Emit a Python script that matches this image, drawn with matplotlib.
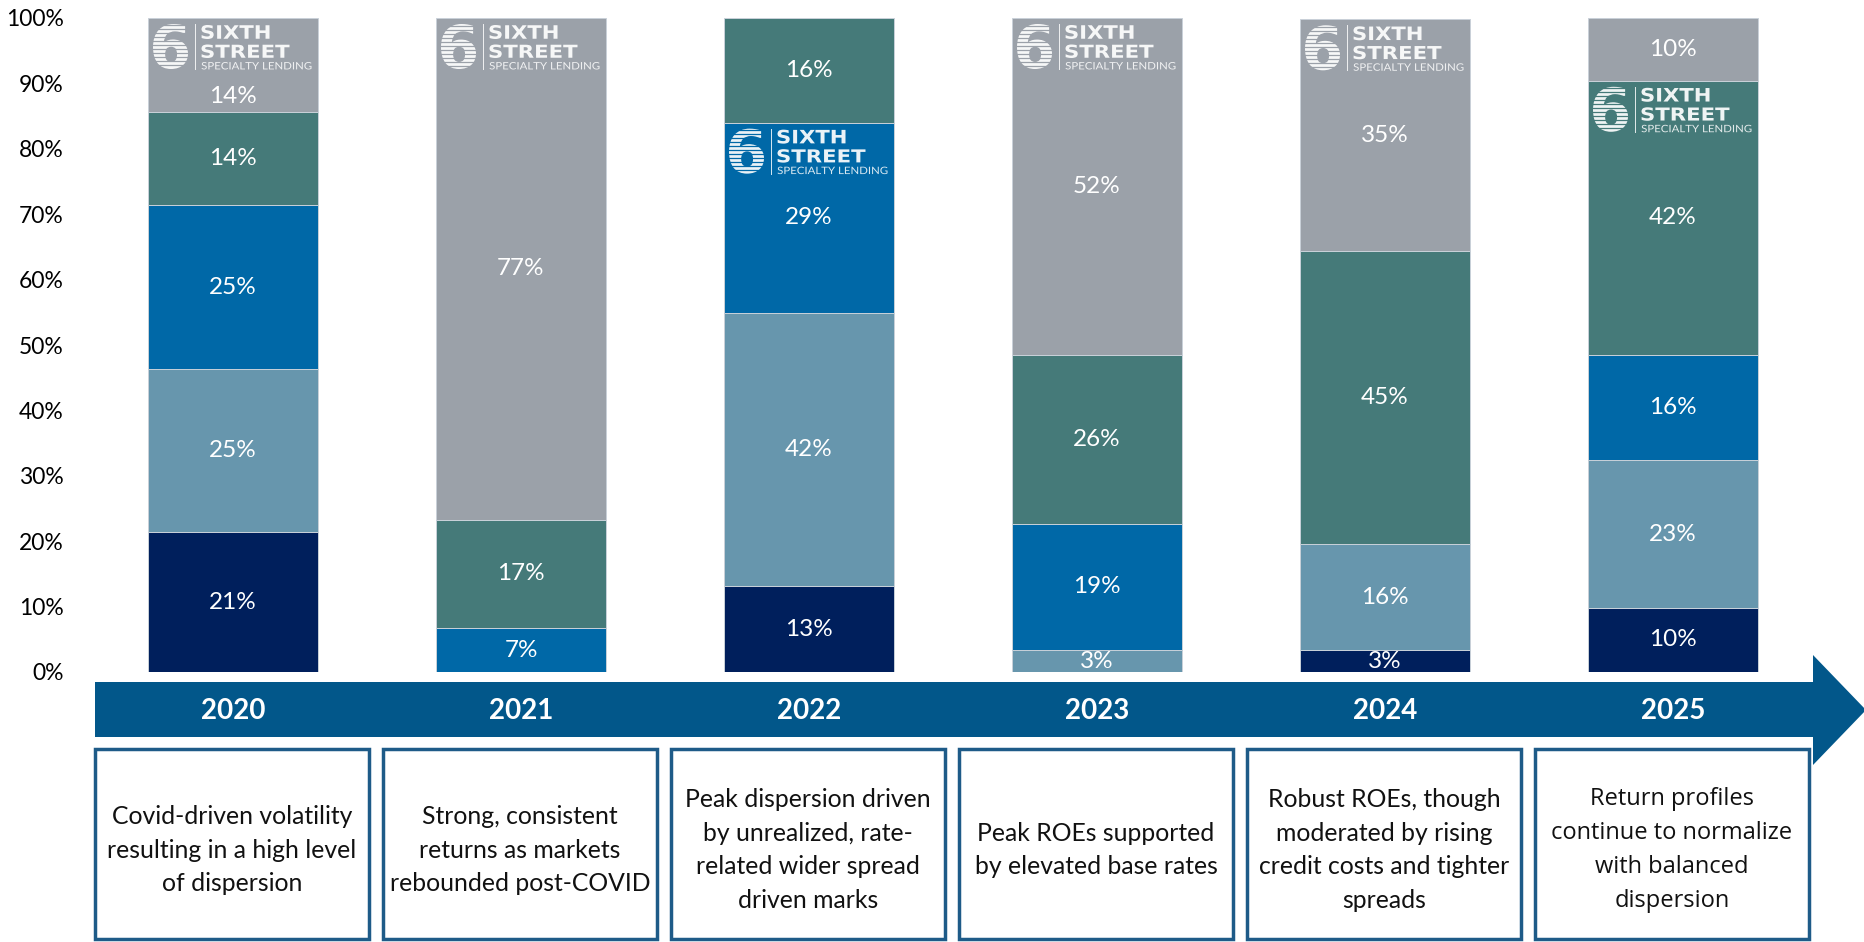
import matplotlib
matplotlib.use("Agg")
import matplotlib.pyplot as plt
from matplotlib.patches import Rectangle, Polygon, PathPatch
from matplotlib.textpath import TextPath
from matplotlib.font_manager import FontProperties
from matplotlib.transforms import Affine2D

plt.rcParams['font.family'] = ['Lato', 'DejaVu Sans']

years = ['2020', '2021', '2022', '2023', '2024', '2025']

# share of the peer group in each band, stacked bottom to top
band_navy = [21.4, 0.0, 13.1, 0.0, 3.3, 9.8]
band_light = [24.9, 0.0, 41.8, 3.3, 16.2, 22.6]
band_mid = [25.1, 6.7, 29.1, 19.4, 0.0, 16.1]
band_teal = [14.2, 16.6, 16.0, 25.7, 44.9, 41.9]
band_gray = [14.4, 76.7, 0.0, 51.6, 35.4, 9.6]

# band that holds the company logo in each year (index into the stack)
logo_band = [4, 4, 2, 4, 4, 3]

notes = [
    "Covid-driven volatility\nresulting in a high level\nof dispersion",
    "Strong, consistent\nreturns as markets\nrebounded post-COVID",
    "Peak dispersion driven\nby unrealized, rate-\nrelated wider spread\ndriven marks",
    "Peak ROEs supported\nby elevated base rates",
    "Robust ROEs, though\nmoderated by rising\ncredit costs and tighter\nspreads",
    "Return profiles\ncontinue to normalize\nwith balanced\ndispersion",
]

bands = [band_navy, band_light, band_mid, band_teal, band_gray]
colors = ['#001F5C', '#6796AD', '#0068A7', '#457A79', '#9BA1A9']

W, H = 1864, 942
fig = plt.figure(figsize=(W / 100, H / 100), dpi=100)

# bar area, laid out in pixels
left, top, base = 75, 18, 672
step, bar_px = 288, 170
x0 = 233
ax = fig.add_axes([left / W, (H - base) / H, (W - left) / W, (base - top) / H])
ax.set_xlim((left - x0) / step, (W - x0) / step)
ax.set_ylim(0, 100)
for s in ax.spines.values():
    s.set_visible(False)
ax.set_xticks([])
ax.set_yticks(range(0, 101, 10))
ax.set_yticklabels([f'{v}%' for v in range(0, 101, 10)], fontsize=16.5)
ax.tick_params(axis='y', length=0, pad=8.0)

xs = list(range(len(years)))
bw = bar_px / step
bottoms = [0.0] * len(years)
seg_bottoms = []
for band, c in zip(bands, colors):
    ax.bar(xs, band, bw, bottom=bottoms, color=c, edgecolor='#C9D1D9', linewidth=0.7)
    seg_bottoms.append(list(bottoms))
    bottoms = [b + v for b, v in zip(bottoms, band)]

px_per_pct = (base - top) / 100.0

for k, band in enumerate(bands):
    for i, v in enumerate(band):
        if v <= 0:
            continue
        b = seg_bottoms[k][i]
        yc = b + v / 2
        if logo_band[i] == k and v < 20:
            # not enough room beside the logo: sit the label under it
            logo_bottom = b + v - 52 / px_per_pct
            yc = b + 0.36 * (logo_bottom - b)
        ax.text(i, yc, f'{v:.0f}%', ha='center', va='center',
                color='white', fontsize=17.5)

# overlay in pixel coordinates for arrow, notes and logos
ov = fig.add_axes([0, 0, 1, 1])
ov.set_xlim(0, W)
ov.set_ylim(H, 0)
ov.axis('off')

arrow_col = '#02578A'
ov.add_patch(Polygon([(95, 682), (1813, 682), (1813, 655), (1866, 710),
                      (1813, 765), (1813, 737), (95, 737)],
                     closed=True, facecolor=arrow_col, edgecolor='none'))
for i, y in enumerate(years):
    ov.text(x0 + step * i, 711, y, ha='center', va='center', color='white',
            fontsize=20, fontweight='bold')

for i, t in enumerate(notes):
    bx = 95 + step * i
    ov.add_patch(Rectangle((bx, 749), 274, 190, facecolor='white',
                           edgecolor='#1E5B88', linewidth=2.5))
    if i == 5:
        fam, fs = ['Open Sans', 'DejaVu Sans'], 17
    else:
        fam, fs = ['Lato', 'DejaVu Sans'], 17.8
    ov.text(bx + 137, 850, t, ha='center', va='center', fontsize=fs,
            color='#111111', linespacing=1.55, family=fam, multialignment='center')


def glyphs(text, prop, gx, gy, w, h, alpha=0.92):
    tp = TextPath((0, 0), text, size=10, prop=prop)
    e = tp.get_extents()
    tr = Affine2D().translate(-e.x0, -e.y1).scale(w / e.width, -h / e.height).translate(gx, gy)
    ov.add_patch(PathPatch(tr.transform_path(tp), facecolor='white',
                           edgecolor='none', alpha=alpha))


bold = FontProperties(family='DejaVu Sans', weight='bold')
reg = FontProperties(family='Lato')

for i, k in enumerate(logo_band):
    seg_top = seg_bottoms[k][i] + bands[k][i]
    dx, dy = ax.transData.transform((i - bw / 2, seg_top))
    L, T = dx, H - dy
    # striped "6"
    glyphs('6', bold, L + 5, T + 6, 35, 45)
    for yy in range(int(T + 8), int(T + 51), 4):
        ov.plot([L + 4, L + 41], [yy, yy], color=colors[k], lw=0.9,
                solid_capstyle='butt')
    ov.plot([L + 46.5, L + 46.5], [T + 6, T + 51], color='white', lw=0.7, alpha=0.85)
    glyphs('SIXTH', bold, L + 53.5, T + 7, 68, 14)
    glyphs('STREET', bold, L + 53.5, T + 26.5, 88, 13.5)
    glyphs('SPECIALTY LENDING', reg, L + 53.5, T + 44, 110, 7.5, alpha=0.85)

fig.savefig('out.png', dpi=100)
